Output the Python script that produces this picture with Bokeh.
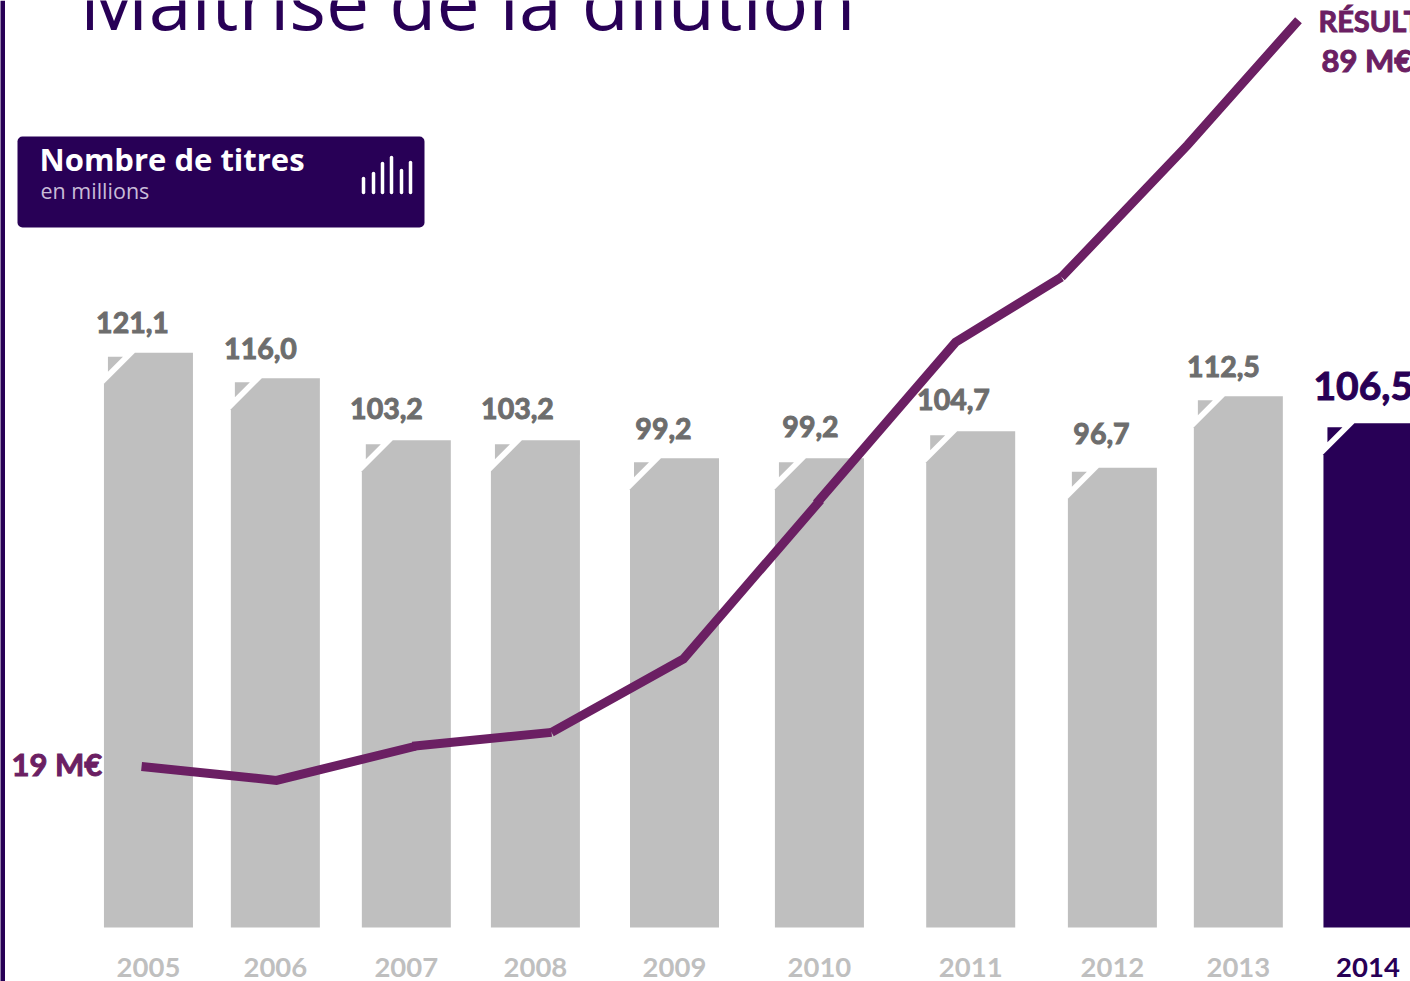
from bokeh.plotting import figure
from bokeh.embed import file_html
from bokeh.resources import INLINE
from bokeh.core.properties import value
from bokeh.models import Range1d, LinearAxis, FixedTicker, BoxAnnotation, ColumnDataSource

# ---- data
years = ["2005", "2006", "2007", "2008", "2009", "2010", "2011", "2012", "2013", "2014"]
bar_slots = [2004.996, 2005.933, 2006.90, 2007.853, 2008.88, 2009.95, 2011.067, 2012.113, 2013.043, 2014.00]
titres_labels = ["121,1", "116,0", "103,2", "103,2", "99,2", "99,2", "104,7", "96,7", "112,5", "106,5"]
titres = [121.4, 116.0, 102.9, 102.9, 99.1, 99.1, 104.8, 97.1, 112.2, 106.5]
# the net result line was drawn in separate runs that overlap slightly
resultat_x = [[2004.945, 2005.941, 2006.967], [2006.945, 2007.972], [2007.972, 2008.946, 2009.958],
              [2009.928, 2010.955, 2011.737], [2011.737, 2012.668, 2013.487]]
resultat = [[19.0, 17.7, 20.9], [20.9, 22.2], [22.2, 29.1, 44.0], [43.67, 58.8, 64.9], [64.9, 77.3, 89.0]]

GREY, DARK, PLUM, TXT = "#bfbfbf", "#280056", "#6b1f63", "#6d6d6d"
W, H, BASE = 1410, 981, 927
PX_YEAR, PX_UNIT, PX_NET = 135.44, 4.735, 10.66
BODY = "Lato"


def X(px):
    return 2005 + (px - 148.5) / PX_YEAR


def Y(py):
    return (BASE - py) / PX_UNIT


p = figure(width=W, height=H, output_backend="svg", toolbar_location=None,
           x_range=Range1d(X(0), X(W)), y_range=Range1d(Y(H), Y(0)),
           x_axis_location=None, y_axis_location=None,
           min_border_left=0, min_border_right=0, min_border_top=0, min_border_bottom=0,
           outline_line_color=None, background_fill_color="white", border_fill_color="white")
p.grid.visible = False
p.extra_y_ranges = {"net": Range1d(19 + (766 - H) / PX_NET, 19 + 766 / PX_NET)}

# bars with their cut corner
half, cut = 44.5 / PX_YEAR, 31
xs, ys, tx, ty = [], [], [], []
for s, v in zip(bar_slots, titres):
    d, e = cut / PX_YEAR, cut / PX_UNIT
    xs.append([s - half, s - half, s - half + d, s + half, s + half])
    ys.append([0, v - e, v, v, 0])
    ox, oy = 4 / PX_YEAR, 4 / PX_UNIT
    tl = 15 / PX_YEAR
    tu = 15 / PX_UNIT
    tx.append([s - half + ox, s - half + ox + tl, s - half + ox])
    ty.append([v - oy, v - oy, v - oy - tu])
cols = [GREY] * 9 + [DARK]
src = ColumnDataSource(dict(xs=xs, ys=ys, c=cols))
p.patches("xs", "ys", fill_color="c", line_color=None, source=src)
p.patches(tx, ty, fill_color=cols, line_color=None)

# net result line
p.multi_line(resultat_x, resultat, y_range_name="net", line_color=PLUM, line_width=9, line_join="miter",
             line_cap="butt")

# value labels
lab_x = [132, 260, 386, 517, 663, 810, 953, 1101, 1223]
lab_y = [322, 348, 408, 408, 428, 426, 399, 433, 366]
p.text([X(a) for a in lab_x], [Y(b) for b in lab_y], text=titres_labels[:9], text_color=TXT,
       text_font=value(BODY), text_font_style="bold", text_font_size="28.5px",
       text_align="center", text_baseline="middle", text_outline_color=TXT)
p.text([X(1313)], [Y(385)], text=[titres_labels[9]], text_color=DARK, text_font=value(BODY),
       text_font_style="bold", text_font_size="39px", text_align="left", text_baseline="middle",
       text_outline_color=DARK)

# line labels
p.text([X(11)], [Y(763)], text=["19 M€"], text_color=PLUM, text_font=value(BODY), text_font_style="bold",
       text_font_size="31px", text_align="left", text_baseline="middle", text_outline_color=PLUM)
p.text([X(1318)], [Y(20)], text=["RÉSULTAT NET"], text_color=PLUM, text_font=value(BODY), text_font_style="bold",
       text_font_size="29px", text_align="left", text_baseline="middle", text_outline_color=PLUM)
p.text([X(1321)], [Y(59)], text=["89 M€"], text_color=PLUM, text_font=value(BODY), text_font_style="bold",
       text_font_size="31px", text_align="left", text_baseline="middle", text_outline_color=PLUM)

# title, stripe, header
p.text([X(79)], [Y(0)], text=["Maîtrise de la dilution"], text_color=DARK, text_font=value("Open Sans"),
       text_font_size="77px", text_align="left", text_baseline="alphabetic")
p.add_layout(BoxAnnotation(left=X(-1), right=X(4.5), bottom=Y(H), top=Y(0), fill_color=DARK, fill_alpha=1,
                           line_color=None, level="underlay"))
p.add_layout(BoxAnnotation(left=X(17), right=X(424), bottom=Y(227), top=Y(136), fill_color=DARK, fill_alpha=1,
                           line_color=None, border_radius=5, level="underlay"))
p.text([X(39)], [Y(158)], text=["Nombre de titres"], text_color="white", text_font=value("Open Sans"),
       text_font_style="bold", text_font_size="31px", text_align="left", text_baseline="middle")
p.text([X(40)], [Y(190)], text=["en millions"], text_color="#c9bcd8", text_font=value("Open Sans"),
       text_font_size="21.5px", text_align="left", text_baseline="middle")
icon_x = [363, 373, 382, 391, 401, 410]
icon_top = [178, 173, 163, 157, 170, 162]
p.segment([X(a) for a in icon_x], [Y(b) for b in icon_top], [X(a) for a in icon_x], [Y(192)] * 6,
          line_color="white", line_width=3.5, line_cap="round")


# year axes, fixed at the bars' base
def year_axis(slots, labels, color):
    ax = LinearAxis(ticker=FixedTicker(ticks=slots), fixed_location=0,
                    major_label_overrides={s: y for s, y in zip(slots, labels)},
                    axis_line_color=None, major_tick_line_color=None, minor_tick_line_color=None,
                    major_label_text_color=color, major_label_text_font=BODY, major_label_text_font_style="bold",
                    major_label_text_font_size="27.5px", major_label_standoff=24)
    p.add_layout(ax, "below")


year_axis(bar_slots[:9], years[:9], GREY)
year_axis(bar_slots[9:], years[9:], DARK)

open("out.html", "w").write(file_html(p, INLINE))
